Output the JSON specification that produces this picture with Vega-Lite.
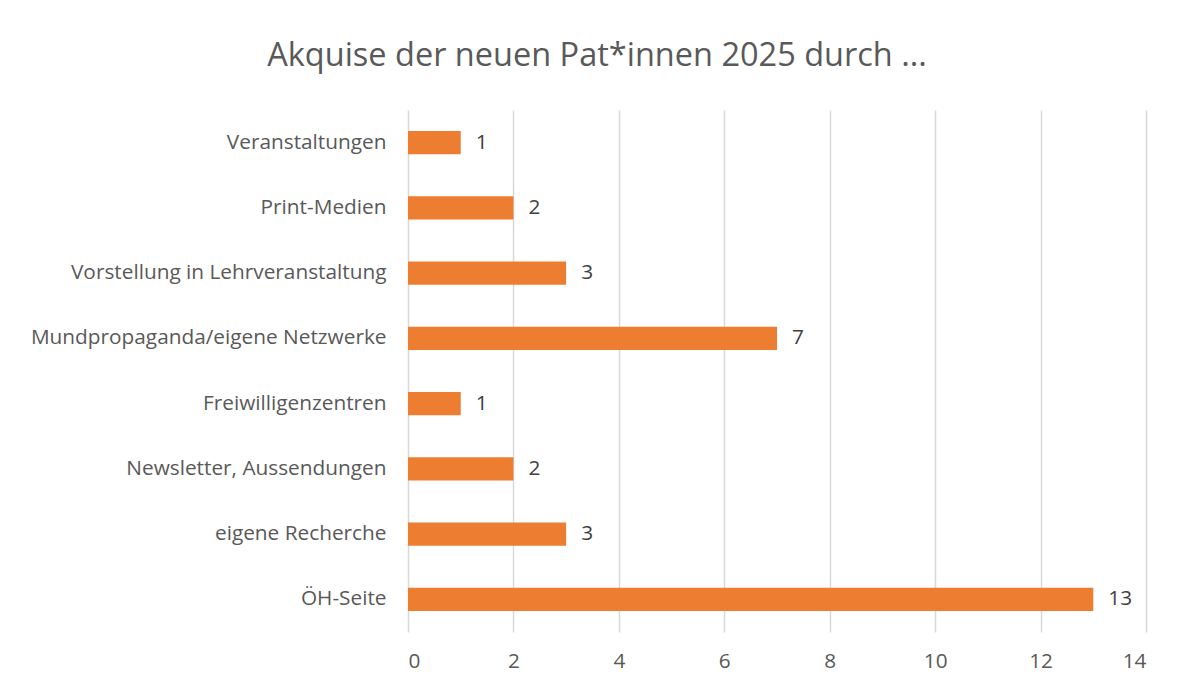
{
  "$schema": "https://vega.github.io/schema/vega-lite/v6.json",
  "autosize": {"type": "none"},
  "width": 738,
  "height": 522,
  "padding": {"left": 408, "top": 110, "right": 31, "bottom": 54},
  "background": "white",
  "title": {
    "text": "Akquise der neuen Pat*innen 2025 durch ...",
    "font": "Open Sans",
    "fontSize": 32.5,
    "fontWeight": "normal",
    "color": "#595959",
    "anchor": "middle",
    "dx": -180,
    "offset": 38
  },
  "config": {
    "view": {"stroke": null},
    "font": "Open Sans"
  },
  "data": {
    "values": [
      {"source": "Veranstaltungen", "count": 1},
      {"source": "Print-Medien", "count": 2},
      {"source": "Vorstellung in Lehrveranstaltung", "count": 3},
      {"source": "Mundpropaganda/eigene Netzwerke", "count": 7},
      {"source": "Freiwilligenzentren", "count": 1},
      {"source": "Newsletter, Aussendungen", "count": 2},
      {"source": "eigene Recherche", "count": 3},
      {"source": "ÖH-Seite", "count": 13}
    ]
  },
  "encoding": {
    "y": {
      "field": "source",
      "type": "nominal",
      "sort": null,
      "scale": {"paddingInner": 0.64, "paddingOuter": 0.32},
      "axis": {
        "title": null,
        "domain": false,
        "ticks": false,
        "labelFont": "Open Sans",
        "labelFontSize": 20.8,
        "labelColor": "#595959",
        "labelPadding": 22,
        "labelLimit": 500
      }
    },
    "x": {
      "field": "count",
      "type": "quantitative",
      "scale": {"domain": [0, 14]},
      "axis": {
        "title": null,
        "values": [0, 2, 4, 6, 8, 10, 12, 14],
        "domain": false,
        "ticks": false,
        "grid": true,
        "gridColor": "#d9d9d9",
        "gridWidth": 1.5,
        "labelFont": "Open Sans",
        "labelFontSize": 20.8,
        "labelColor": "#595959",
        "labelPadding": 19
      }
    }
  },
  "layer": [
    {"mark": {"type": "bar", "color": "#ED7D31"}},
    {
      "mark": {"type": "text", "align": "left", "dx": 15, "font": "Open Sans", "fontSize": 20.8, "color": "#404040"},
      "encoding": {"text": {"field": "count", "type": "quantitative"}}
    }
  ]
}
